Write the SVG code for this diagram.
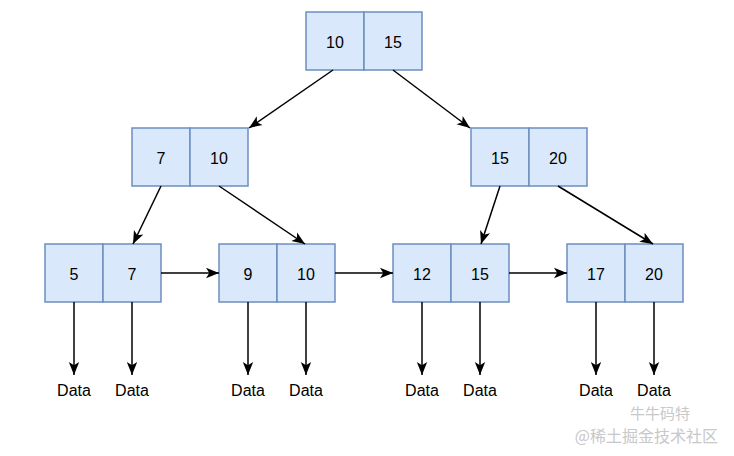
<svg xmlns="http://www.w3.org/2000/svg" width="734" height="456" viewBox="0 0 734 456">
<defs>
<style>
.c{fill:#dae8fc;stroke:#6c8ebf;stroke-width:1.5}
.t{font-family:"Liberation Sans",Arial,sans-serif;font-size:16px;fill:#000;text-anchor:middle;dominant-baseline:central}
.d{font-family:"Liberation Sans",Arial,sans-serif;font-size:16px;fill:#000;text-anchor:middle}
.e{stroke:#000;stroke-width:1.5;fill:none;marker-end:url(#a)}
.w{font-family:"Noto Sans CJK SC","Liberation Sans",sans-serif;fill:#c8c8c8;text-anchor:end}
</style>
<marker id="a" viewBox="0 0 10 10" refX="10" refY="5" markerWidth="13" markerHeight="13" markerUnits="userSpaceOnUse" orient="auto">
<path d="M0,1 L10,5 L0,9 L2.5,5 Z" fill="#000"/>
</marker>
</defs>
<rect width="734" height="456" fill="#fff"/>
<g id="root"><rect class="c" x="306" y="12" width="58" height="58"/><rect class="c" x="364" y="12" width="58" height="58"/><text class="t" x="335" y="42">10</text><text class="t" x="393" y="42">15</text></g>
<g id="n7_10"><rect class="c" x="132" y="128" width="58" height="58"/><rect class="c" x="190" y="128" width="58" height="58"/><text class="t" x="161" y="158">7</text><text class="t" x="219" y="158">10</text></g>
<g id="n15_20"><rect class="c" x="471" y="128" width="58" height="58"/><rect class="c" x="529" y="128" width="58" height="58"/><text class="t" x="500" y="158">15</text><text class="t" x="558" y="158">20</text></g>
<g id="l5_7"><rect class="c" x="45" y="244" width="58" height="58"/><rect class="c" x="103" y="244" width="58" height="58"/><text class="t" x="74" y="274">5</text><text class="t" x="132" y="274">7</text></g>
<g id="l9_10"><rect class="c" x="219" y="244" width="58" height="58"/><rect class="c" x="277" y="244" width="58" height="58"/><text class="t" x="248" y="274">9</text><text class="t" x="306" y="274">10</text></g>
<g id="l12_15"><rect class="c" x="393" y="244" width="58" height="58"/><rect class="c" x="451" y="244" width="58" height="58"/><text class="t" x="422" y="274">12</text><text class="t" x="480" y="274">15</text></g>
<g id="l17_20"><rect class="c" x="567" y="244" width="58" height="58"/><rect class="c" x="625" y="244" width="58" height="58"/><text class="t" x="596" y="274">17</text><text class="t" x="654" y="274">20</text></g>
<g id="connectors">
<line class="e" x1="333" y1="70" x2="249" y2="128"/>
<line class="e" x1="393" y1="70" x2="470" y2="128"/>
<line class="e" x1="161" y1="186" x2="133" y2="244"/>
<line class="e" x1="219" y1="186" x2="305" y2="244"/>
<line class="e" x1="500" y1="186" x2="481" y2="244"/>
<line class="e" x1="558" y1="186" x2="653" y2="244"/>
<line class="e" x1="161" y1="273" x2="219" y2="273"/>
<line class="e" x1="335" y1="273" x2="393" y2="273"/>
<line class="e" x1="509" y1="273" x2="567" y2="273"/>
<line class="e" x1="74" y1="302" x2="74" y2="375"/>
<line class="e" x1="132" y1="302" x2="132" y2="375"/>
<line class="e" x1="248" y1="302" x2="248" y2="375"/>
<line class="e" x1="306" y1="302" x2="306" y2="375"/>
<line class="e" x1="422" y1="302" x2="422" y2="375"/>
<line class="e" x1="480" y1="302" x2="480" y2="375"/>
<line class="e" x1="596" y1="302" x2="596" y2="375"/>
<line class="e" x1="654" y1="302" x2="654" y2="375"/>
</g>
<g id="data">
<text class="d" x="74" y="396">Data</text>
<text class="d" x="132" y="396">Data</text>
<text class="d" x="248" y="396">Data</text>
<text class="d" x="306" y="396">Data</text>
<text class="d" x="422" y="396">Data</text>
<text class="d" x="480" y="396">Data</text>
<text class="d" x="596" y="396">Data</text>
<text class="d" x="654" y="396">Data</text>
</g>
<text class="w" x="690" y="419" style="font-size:15px">牛牛码特</text>
<text class="w" x="718" y="442" style="font-size:16px">@稀土掘金技术社区</text>
</svg>
